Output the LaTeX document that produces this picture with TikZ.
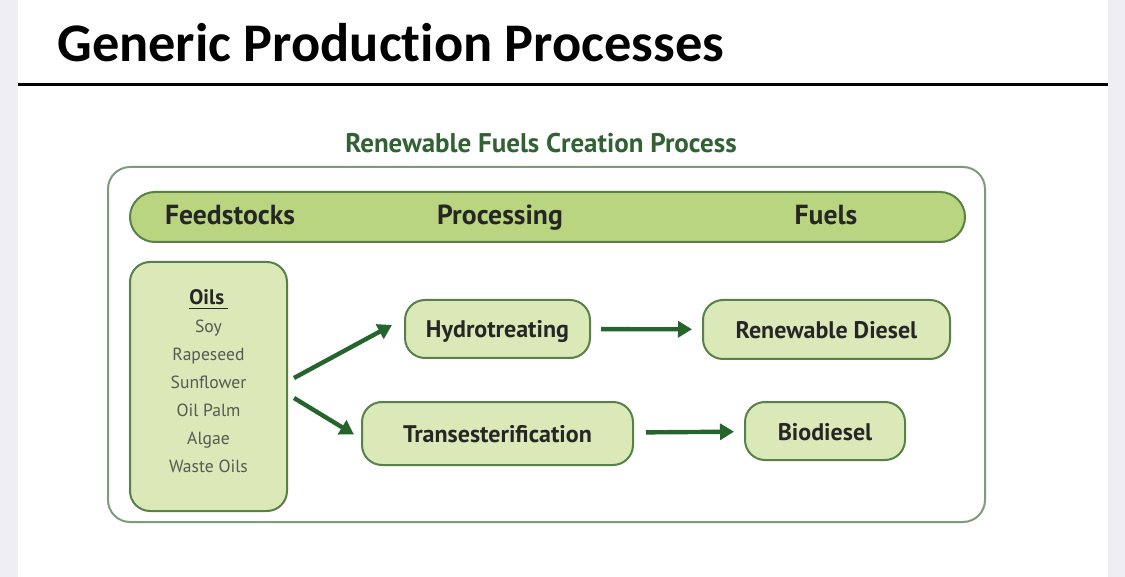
\documentclass[tikz,border=0pt]{standalone}
\usepackage{fontspec}
\setmainfont{PT Sans}
\newfontfamily\titlefont[Ligatures=NoCommon]{Carlito}
\usetikzlibrary{arrows.meta, positioning}

\definecolor{leafgreen}{RGB}{185,213,127}
\definecolor{palegreen}{RGB}{218,233,183}
\definecolor{edgegreen}{RGB}{88,128,72}
\definecolor{arrowgreen}{RGB}{38,100,45}
\definecolor{framegrey}{RGB}{125,155,125}
\definecolor{captiongreen}{RGB}{50,98,52}
\definecolor{pagegrey}{RGB}{238,238,243}
\definecolor{listgrey}{RGB}{85,90,85}

\begin{document}
\begin{tikzpicture}[x=0.5pt, y=-0.5pt,
    stage/.style={rectangle, rounded corners=10pt, draw=edgegreen, fill=palegreen, line width=1pt, inner sep=0pt, text height=9pt, text depth=0pt, font=\bfseries\fontsize{12}{14}\selectfont, text=black!85},
    colhead/.style={anchor=base, font=\bfseries\fontsize{13.8}{16}\selectfont, text=black!85},
    flow/.style={-{Triangle[length=7pt, width=8pt]}, line width=2.2pt, draw=arrowgreen}]

    % page and slide
    \useasboundingbox (0,0) rectangle (1125,577);
    \fill[pagegrey] (0,0) rectangle (1125,577);
    \fill[white] (18,0) rectangle (1108,577);
    \node[anchor=base west, inner sep=0pt, font=\titlefont\bfseries\fontsize{27.2}{32}\selectfont] (title) at (57,62) {Generic Production Processes};
    \draw[line width=1.5pt] (18,85) -- (1108,85);

    % frame and column band
    \node[font=\bfseries\fontsize{13.5}{16}\selectfont, text=captiongreen] (caption) at (541,143) {Renewable Fuels Creation Process};
    \draw[framegrey, line width=1pt, rounded corners=11pt] (108,167) rectangle (985,522);
    \node[rectangle, rounded corners=12.5pt, draw=edgegreen, fill=leafgreen, line width=1pt, minimum width=417.5pt, minimum height=25pt] (band) at (547.5,217) {};
    \node[colhead] (feed) at (230,225) {Feedstocks};
    \node[colhead] (proc) at (500,225) {Processing};
    \node[colhead] (fuel) at (826,225) {Fuels};

    % feedstock box
    \node[stage, minimum width=78.5pt, minimum height=124.5pt, align=center, text height=, text depth=5pt, font=\fontsize{8.8}{14}\selectfont, text=listgrey] (oils) at (208.5,386.5)
        {{\bfseries\fontsize{10.5}{14}\selectfont\color{black!85}\underline{Oils\,}}\\Soy\\Rapeseed\\Sunflower\\Oil Palm\\Algae\\Waste Oils};

    % processes and fuels
    \node[stage, minimum width=92.5pt, minimum height=29pt] (hydro) at (497.5,329) {Hydrotreating};
    \node[stage, minimum width=135.5pt, minimum height=31.5pt] (trans) at (497.5,433.5) {Transesterification};
    \node[stage, minimum width=123.5pt, minimum height=29.5pt] (rdiesel) at (826.5,329.5) {Renewable Diesel};
    \node[stage, minimum width=80pt, minimum height=29pt] (bio) at (825,431) {Biodiesel};

    \draw[flow] ([xshift=3pt, yshift=4.25pt]oils.east) -- ([xshift=-6pt, yshift=2pt]hydro.west);
    \draw[flow] ([xshift=3pt, yshift=-5.75pt]oils.east) -- ([xshift=-3.5pt, yshift=-0.5pt]trans.west);
    \draw[flow, shorten <=5pt, shorten >=5pt] (hydro) -- (rdiesel);
    \draw[flow, shorten <=6pt, shorten >=5pt] (trans) -- (bio);
\end{tikzpicture}
\end{document}
